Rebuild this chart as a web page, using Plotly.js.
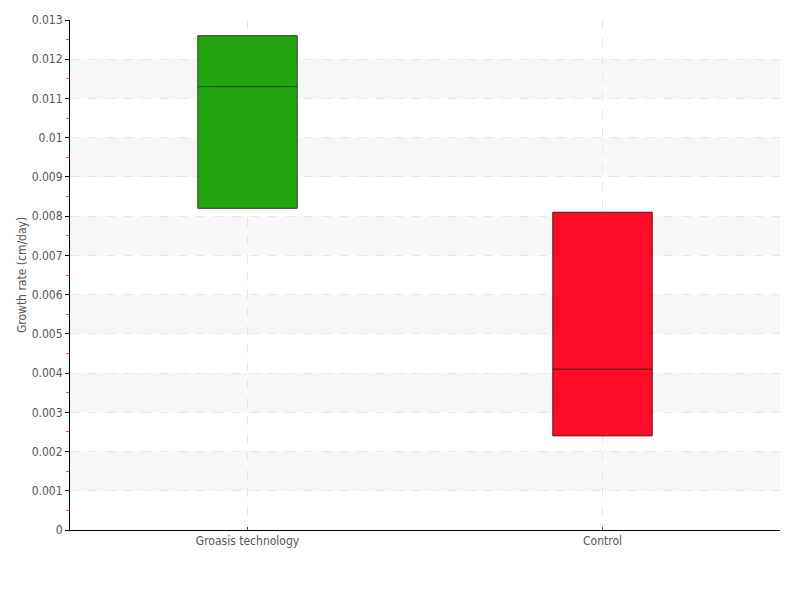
<!DOCTYPE html>
<html>
<head>
<meta charset="utf-8">
<script src="https://cdn.plot.ly/plotly-3.0.1.min.js"></script>
<style>body{margin:0;padding:0;}#chart{width:800px;height:600px;}</style>
</head>
<body>
<div id="chart"></div>
<script>
const categories = ["Groasis technology", "Control"];
const q1Values = [0.0082, 0.0024];
const medianValues = [0.0113, 0.0041];
const q3Values = [0.0126, 0.0081];
const boxColors = ["#22a511", "#ff0d27"];
const lineColors = ["#1e4a14", "#5a1018"];
const yTickValues = [0, 0.001, 0.002, 0.003, 0.004, 0.005, 0.006, 0.007, 0.008, 0.009, 0.01, 0.011, 0.012, 0.013];
const yTitle = "Growth rate (cm/day)";

const traces = categories.map((c, i) => ({
  type: "box",
  x: [c],
  q1: [q1Values[i]],
  median: [medianValues[i]],
  q3: [q3Values[i]],
  lowerfence: [q1Values[i]],
  upperfence: [q3Values[i]],
  fillcolor: boxColors[i],
  line: {color: lineColors[i], width: 1},
  width: 0.28,
  whiskerwidth: 0,
  showlegend: false,
  hoverinfo: "skip"
}));

const shapes = [];
for (let i = 1; i + 1 < yTickValues.length; i += 2) {
  shapes.push({
    type: "rect", xref: "paper", yref: "y",
    x0: 0, x1: 1, y0: yTickValues[i], y1: yTickValues[i + 1],
    fillcolor: "#f7f7f7", line: {width: 0}, layer: "below"
  });
}

const font = "'DejaVu Sans Condensed', 'Liberation Sans Narrow', sans-serif";
const layout = {
  width: 800, height: 600,
  margin: {l: 70, r: 20, t: 20, b: 70},
  paper_bgcolor: "#ffffff",
  plot_bgcolor: "rgba(0,0,0,0)",
  font: {family: font, size: 12, color: "#555"},
  shapes: shapes,
  xaxis: {
    type: "category",
    range: [-0.5, 1.5],
    showline: true, linecolor: "#000", linewidth: 1,
    showgrid: true, gridcolor: "#e6e6e6", griddash: "dash",
    ticks: "inside", ticklen: 3, tickcolor: "#444",
    zeroline: false,
    tickfont: {family: font, size: 12, color: "#555"}
  },
  yaxis: {
    range: [0, 0.013],
    tickvals: yTickValues,
    showline: true, linecolor: "#000", linewidth: 1,
    showgrid: true, gridcolor: "#e6e6e6", griddash: "dash",
    ticks: "outside", ticklen: 4, tickcolor: "#000",
    zeroline: false,
    tickfont: {family: font, size: 12, color: "#555"},
    minor: {dtick: 0.0005, tick0: 0, ticks: "outside", ticklen: 3, tickwidth: 1, tickcolor: "#ff4040", showgrid: false},
    title: {text: yTitle, font: {family: font, size: 12, color: "#555"}, standoff: 2}
  }
};

Plotly.newPlot("chart", traces, layout, {displayModeBar: false});
</script>
</body>
</html>
